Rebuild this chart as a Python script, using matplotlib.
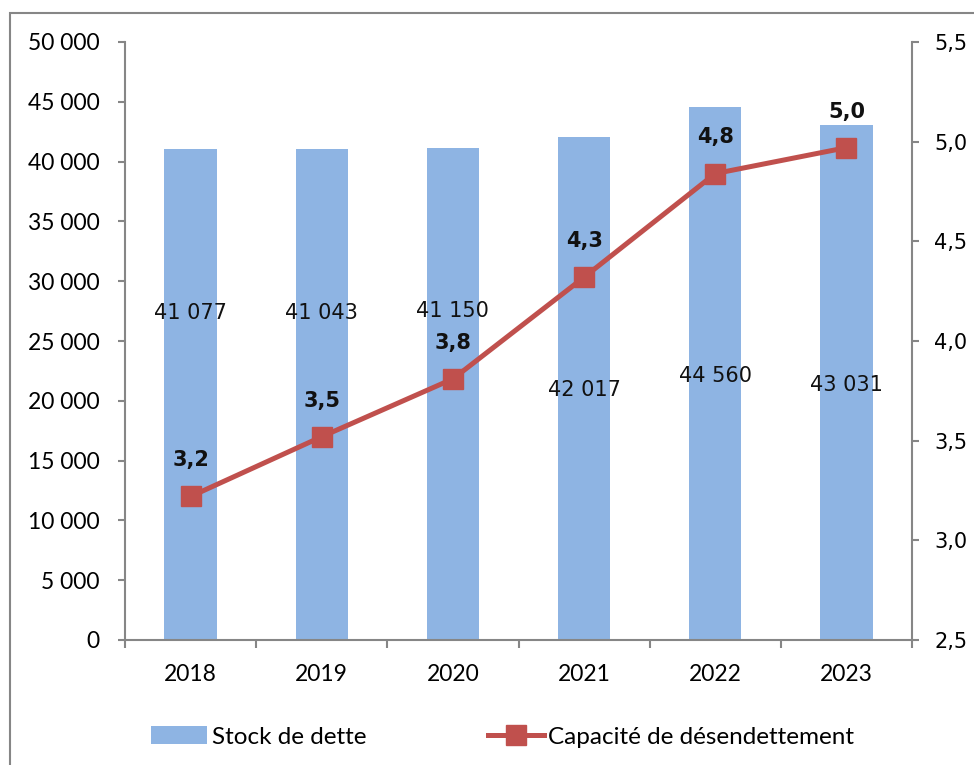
import matplotlib
matplotlib.use("Agg")
import matplotlib.pyplot as plt
from matplotlib.ticker import FuncFormatter, FixedLocator
from matplotlib.patches import Rectangle
from matplotlib.lines import Line2D
from matplotlib.patches import Patch
import numpy as np

years = ["2018", "2019", "2020", "2021", "2022", "2023"]
stock = [41077, 41043, 41150, 42017, 44560, 43031]
capacite = [3.22, 3.52, 3.81, 4.32, 4.84, 4.97]
# vertical placement of the stock labels (layout only)
stock_label_y = [27300, 27300, 27500, 20900, 22100, 21300]

BAR = "#8EB4E3"
RED = "#C0504D"
GRAY = "#868686"
TICKFONT = "Lato"
LABELFONT = "DejaVu Sans"

fig = plt.figure(figsize=(9.74, 7.65), dpi=100)
ax = fig.add_axes([125/974, 1-640/765, (912-125)/974, (640-42)/765])
ax2 = ax.twinx()

x = np.arange(len(years))
ax.bar(x, stock, width=0.40, color=BAR, zorder=2)
for xi, v, ly in zip(x, stock, stock_label_y):
    ax.text(xi, ly, f"{v:,}".replace(",", " "), ha="center", va="center",
            fontsize=15, family=LABELFONT, color="#111111", zorder=3)

ax.set_xlim(-0.5, len(years) - 0.5)
ax.set_ylim(0, 50000)
ax.set_yticks(np.arange(0, 50001, 5000))
ax.yaxis.set_major_formatter(FuncFormatter(lambda v, p: f"{v:,.0f}".replace(",", "\u00a0")))
ax.set_xticks(x)
ax.set_xticklabels(years)
ax.xaxis.set_minor_locator(FixedLocator(np.arange(-0.5, len(years), 1.0)))
ax.tick_params(axis="x", which="major", length=0, pad=17, labelsize=16.5)
ax.tick_params(axis="x", which="minor", length=6, width=1.5, color=GRAY, direction="out")
ax.tick_params(axis="y", length=5, width=1.5, color=GRAY, pad=13, labelsize=16.5)
for lab in ax.get_xticklabels() + ax.get_yticklabels():
    lab.set_family(TICKFONT)

ax2.plot(x, capacite, color=RED, lw=3.6, marker="s", markersize=14,
         markerfacecolor=RED, markeredgecolor=RED, zorder=4)
for xi, v in zip(x, capacite):
    ax2.annotate(f"{v:.1f}".replace(".", ","), (xi, v), xytext=(0, 26),
                 textcoords="offset points", ha="center", va="center",
                 fontsize=15, fontweight="bold", family=LABELFONT, color="#111111")
ax2.set_ylim(2.5, 5.5)
ax2.set_yticks(np.arange(2.5, 5.51, 0.5))
ax2.yaxis.set_major_formatter(FuncFormatter(lambda v, p: f"{v:.1f}".replace(".", ",")))
ax2.tick_params(axis="y", length=5, width=1.5, color=GRAY, pad=11, labelsize=15)
for lab in ax2.get_yticklabels():
    lab.set_family(LABELFONT)

for a in (ax, ax2):
    a.spines["top"].set_visible(False)
    for s in ("left", "right", "bottom"):
        a.spines[s].set_color(GRAY)
        a.spines[s].set_linewidth(1.5)
ax.spines["right"].set_visible(False)
ax2.spines["left"].set_visible(False)
ax2.spines["bottom"].set_visible(False)

handles = [Patch(facecolor=BAR, edgecolor="none"),
           Line2D([0], [0], color=RED, lw=3.6, marker="s", markersize=14,
                  markerfacecolor=RED, markeredgecolor=RED)]
leg = fig.legend(handles, ["Stock de dette", "Capacité de désendettement"],
                 loc="center", bbox_to_anchor=(0.516, 1 - 737/765), ncol=2,
                 frameon=False, prop={"family": TICKFONT, "size": 17.5},
                 handlelength=2.3, handletextpad=0.2, columnspacing=5.0)

fig.patches.append(Rectangle((10/974, -0.1), 1.2, 1.1 - 13/765,
                             transform=fig.transFigure, fill=False,
                             edgecolor=GRAY, linewidth=1.5))

fig.savefig("out.png", dpi=100)
